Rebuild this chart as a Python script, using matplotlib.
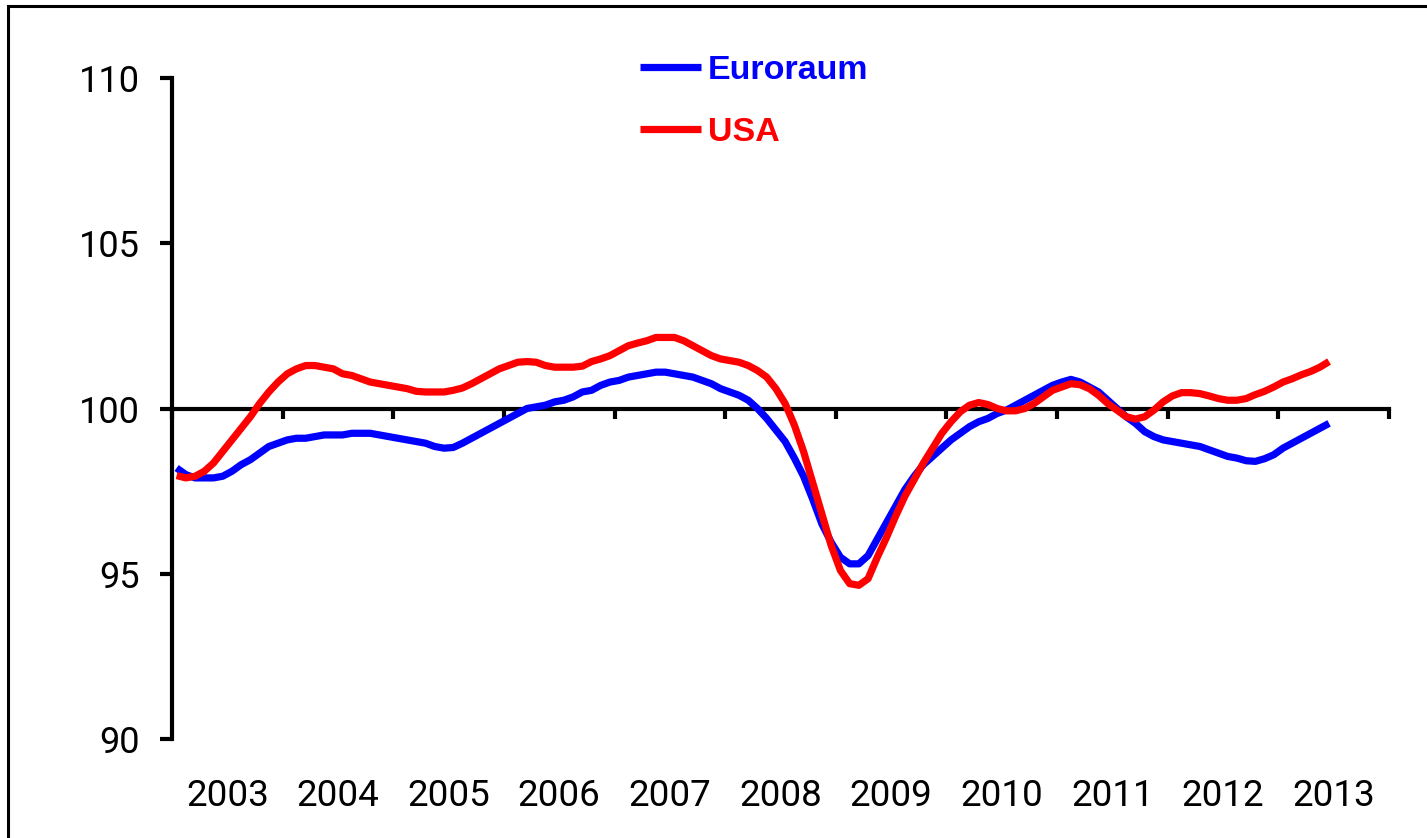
import matplotlib
matplotlib.use("Agg")
import matplotlib.pyplot as plt
from matplotlib.patches import Rectangle
import numpy as np

# Monthly data, Jan 2003 .. Jun 2013
start_year = 2003
euroraum = [
    98.2, 98.0, 97.9, 97.9, 97.9, 97.95, 98.1, 98.3, 98.45, 98.65, 98.85, 98.95,
    99.05, 99.1, 99.1, 99.15, 99.2, 99.2, 99.2, 99.25, 99.25, 99.25, 99.2, 99.15,
    99.1, 99.05, 99.0, 98.95, 98.85, 98.8, 98.82, 98.95, 99.1, 99.25, 99.4, 99.55,
    99.7, 99.85, 100.0, 100.05, 100.1, 100.2, 100.25, 100.35, 100.5, 100.55, 100.7, 100.8,
    100.85, 100.95, 101.0, 101.05, 101.1, 101.1, 101.05, 101.0, 100.95, 100.85, 100.75, 100.6,
    100.5, 100.4, 100.25, 100.0, 99.7, 99.35, 99.0, 98.5, 97.95, 97.25, 96.5, 95.95,
    95.5, 95.3, 95.3, 95.55, 96.05, 96.55, 97.05, 97.55, 97.95, 98.3, 98.55, 98.8,
    99.05, 99.25, 99.45, 99.6, 99.7, 99.85, 99.95, 100.1, 100.25, 100.4, 100.55, 100.7,
    100.8, 100.88, 100.8, 100.65, 100.5, 100.25, 100.0, 99.75, 99.55, 99.3, 99.15, 99.05,
    99.0, 98.95, 98.9, 98.85, 98.75, 98.65, 98.55, 98.5, 98.42, 98.4, 98.48, 98.6,
    98.8, 98.95, 99.1, 99.25, 99.4, 99.55,
]
usa = [
    97.97, 97.9, 97.95, 98.1, 98.35, 98.7, 99.05, 99.4, 99.75, 100.15, 100.5, 100.8,
    101.05, 101.2, 101.3, 101.3, 101.25, 101.2, 101.05, 101.0, 100.9, 100.8, 100.75, 100.7,
    100.65, 100.6, 100.52, 100.5, 100.5, 100.5, 100.55, 100.62, 100.75, 100.9, 101.05, 101.2,
    101.3, 101.4, 101.42, 101.4, 101.3, 101.25, 101.25, 101.25, 101.28, 101.42, 101.5, 101.6,
    101.75, 101.9, 101.98, 102.05, 102.15, 102.15, 102.15, 102.05, 101.9, 101.75, 101.6, 101.5,
    101.45, 101.4, 101.3, 101.15, 100.95, 100.6, 100.15, 99.5, 98.7, 97.75, 96.8, 95.85,
    95.1, 94.7, 94.65, 94.85, 95.5, 96.1, 96.75, 97.35, 97.85, 98.35, 98.8, 99.25,
    99.6, 99.9, 100.1, 100.18, 100.12, 100.0, 99.93, 99.93, 100.0, 100.15, 100.35, 100.55,
    100.65, 100.75, 100.72, 100.6, 100.4, 100.15, 99.95, 99.75, 99.68, 99.75, 99.95, 100.2,
    100.38, 100.48, 100.48, 100.45, 100.38, 100.3, 100.25, 100.25, 100.3, 100.42, 100.52, 100.65,
    100.8, 100.9, 101.02, 101.12, 101.25, 101.42,
]
year_labels = [str(y) for y in range(2003, 2014)]
series_names = ["Euroraum", "USA"]
y_ticks = [90, 95, 100, 105, 110]

x = start_year + (np.arange(len(euroraum)) + 0.5) / 12.0

W, H = 1427, 838
fig = plt.figure(figsize=(W / 100, H / 100), dpi=100)
fig.patch.set_facecolor("white")

# outer frame (chart area border, cropped at right/bottom)
fig.patches.append(Rectangle((8 / W, -0.1), 1.2, 1 - 6 / H + 0.1, transform=fig.transFigure,
                             fill=False, edgecolor="black", linewidth=2.2, zorder=0))

ax = fig.add_axes([172 / W, 1 - 739 / H, (1389 - 172) / W, (739 - 78) / H])
ax.set_facecolor("none")

ax.plot(x, euroraum, color="#0000FF", lw=5.2, label=series_names[0], solid_capstyle="butt", zorder=3)
ax.plot(x, usa, color="#FF0000", lw=5.2, label=series_names[1], solid_capstyle="butt", zorder=4)

ax.set_xlim(2003, 2014)
ax.set_ylim(90, 110)

for s in ["top", "right"]:
    ax.spines[s].set_visible(False)
ax.spines["left"].set_linewidth(3)
ax.spines["bottom"].set_linewidth(3)
ax.spines["bottom"].set_position(("data", 100))
ax.spines["bottom"].set_zorder(2)

tick_font = ["Roboto", "DejaVu Sans"]
ax.set_yticks(y_ticks)
ax.set_yticklabels([str(v) for v in y_ticks], family=tick_font)
ax.tick_params(axis="y", direction="out", length=9, width=3, pad=14, labelsize=26)
ax.set_xticks(np.arange(2003, 2015))
ax.tick_params(axis="x", direction="out", length=7, width=3, labelbottom=False)

sec = ax.secondary_xaxis(0)
sec.set_xticks([y + 0.5 for y in range(2003, 2014)])
sec.set_xticklabels(year_labels, family=tick_font)
sec.tick_params(axis="x", length=0, pad=28, labelsize=26.5)
sec.spines["bottom"].set_visible(False)

leg = ax.legend(loc="upper left", bbox_to_anchor=((640 - 172) / (1389 - 172), 1.0355),
                frameon=False, handlelength=1.8, handletextpad=0.2, labelspacing=0.93,
                borderpad=0, borderaxespad=0,
                prop={"family": ["Liberation Sans", "DejaVu Sans"], "weight": "bold", "size": 24.5})
for txt, line in zip(leg.get_texts(), leg.get_lines()):
    txt.set_color(line.get_color())

fig.savefig("out.png", dpi=100, facecolor="white")
